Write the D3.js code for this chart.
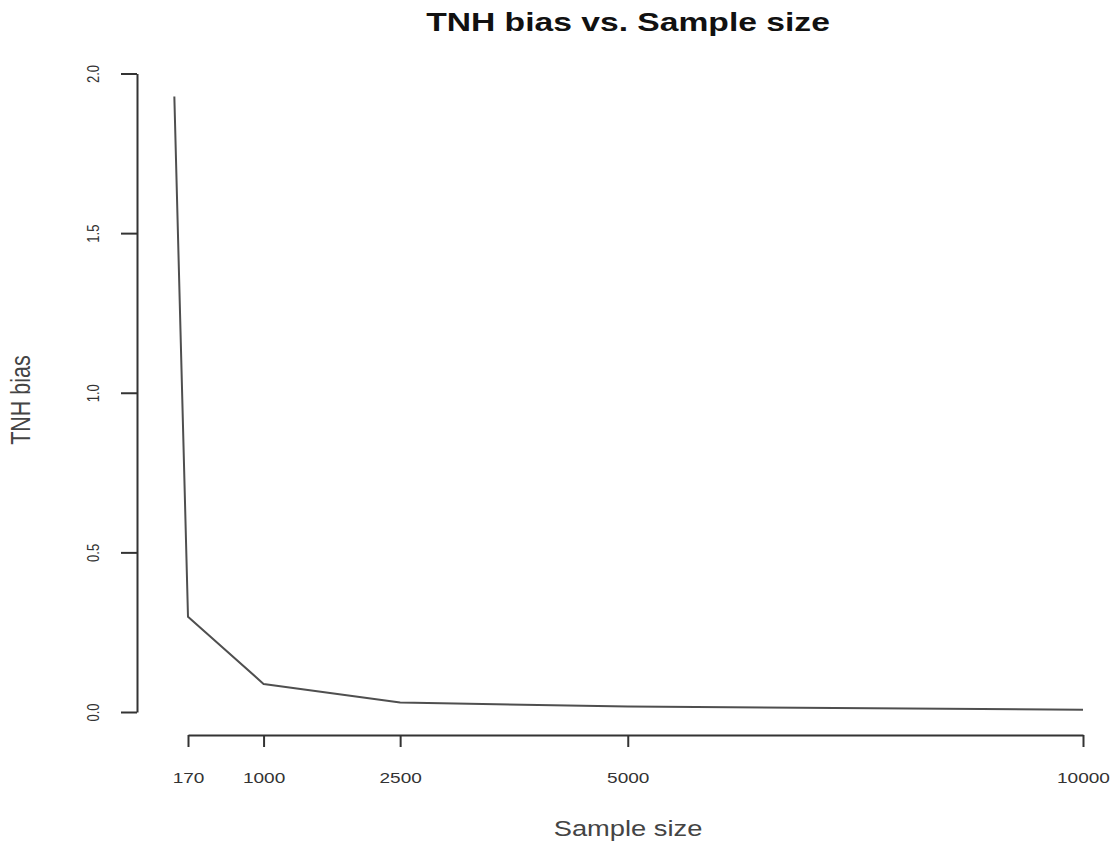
<!DOCTYPE html>
<html>
<head>
<meta charset="utf-8">
<script src="https://cdn.jsdelivr.net/npm/d3@7"></script>
<style>
  html, body { margin: 0; padding: 0; background: #fff; }
  svg { display: block; }
  text { font-family: "Liberation Sans", Arial, Helvetica, sans-serif; fill: #222; }
</style>
</head>
<body>
<script>
// Data
const sampleSizes = [20, 170, 1000, 2500, 5000, 10000];
const tnhBias = [1.928, 0.298, 0.088, 0.030, 0.017, 0.007];
const xTicks = [170, 1000, 2500, 5000, 10000];
const yTicks = [0.0, 0.5, 1.0, 1.5, 2.0];
const titleText = "TNH bias vs. Sample size";
const xLabel = "Sample size";
const yLabel = "TNH bias";

const W = 1112, H = 842;
const sx = 1.27; // horizontal stretch of the original picture

const svg = d3.select("body").append("svg").attr("width", W).attr("height", H);

const x = d3.scaleLinear().domain([170, 10000]).range([188, 1083]);
const y = d3.scaleLinear().domain([0, 2]).range([712, 73.5]);

const axisColor = "#333";

// Y axis (left, R style)
const yAxis = svg.append("g").attr("transform", "translate(137,0)")
  .call(d3.axisLeft(y).tickValues(yTicks).tickSize(16).tickSizeOuter(0).tickFormat(d3.format(".1f")));
yAxis.select(".domain").attr("stroke", axisColor).attr("stroke-width", 2);
yAxis.selectAll(".tick line").attr("stroke", axisColor).attr("stroke-width", 2);
yAxis.selectAll(".tick text")
  .attr("x", null).attr("dy", null)
  .attr("text-anchor", "middle")
  .attr("font-size", 13)
  .style("fill", "#333")
  .attr("transform", `translate(-44,0) scale(${sx},1) rotate(-90) translate(0,4.5)`);

// X axis (bottom, R style)
const xAxis = svg.append("g").attr("transform", "translate(0,735)")
  .call(d3.axisBottom(x).tickValues(xTicks).tickSize(12).tickSizeOuter(0).tickFormat(d3.format("d")));
xAxis.select(".domain").attr("stroke", axisColor).attr("stroke-width", 2);
xAxis.selectAll(".tick line").attr("stroke", axisColor).attr("stroke-width", 2);
xAxis.selectAll(".tick text")
  .attr("y", null).attr("dy", null)
  .attr("text-anchor", "middle")
  .attr("font-size", 15)
  .style("fill", "#333")
  .attr("transform", `translate(0,47.5) scale(${sx},1)`);

// Line
const line = d3.line().x((d, i) => x(sampleSizes[i])).y(d => y(d));
svg.append("path")
  .datum(tnhBias)
  .attr("fill", "none")
  .attr("stroke", "#4f4f4f")
  .attr("stroke-width", 2)
  .attr("stroke-linejoin", "round")
  .attr("d", line);

// Title
svg.append("text")
  .attr("transform", `translate(628,31) scale(${sx},1)`)
  .attr("text-anchor", "middle")
  .attr("font-weight", "bold")
  .attr("font-size", 26.5)
  .style("fill", "#111")
  .text(titleText);

// X label
svg.append("text")
  .attr("transform", `translate(628,836) scale(${sx},1)`)
  .attr("text-anchor", "middle")
  .attr("font-size", 21.5)
  .style("fill", "#444")
  .text(xLabel);

// Y label
svg.append("text")
  .attr("transform", `translate(22,400) scale(${sx},1) rotate(-90) translate(0,6)`)
  .attr("text-anchor", "middle")
  .attr("font-size", 21.5)
  .style("fill", "#444")
  .text(yLabel);
</script>
</body>
</html>
